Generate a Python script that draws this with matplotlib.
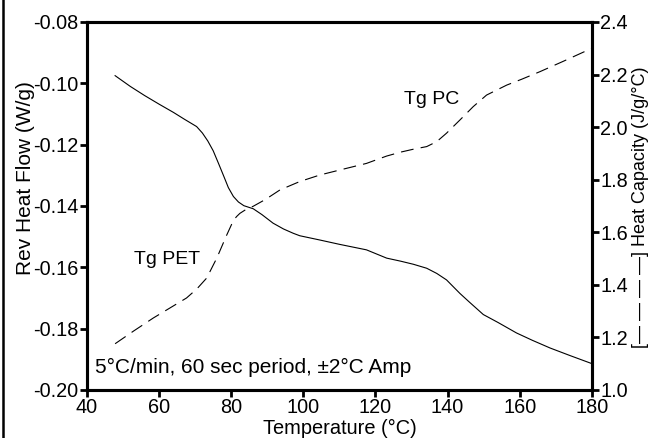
import matplotlib.pyplot as plt
from matplotlib.lines import Line2D

plt.rcParams['font.family'] = ['Liberation Sans', 'DejaVu Sans']

# rev heat flow (W/g), solid line
temp_hf = [47.8, 52, 56, 60, 64, 67, 70.4, 72, 73.5, 75.0, 76.5, 78, 79.2, 80.6,
           82, 83.5, 86.1, 88.5, 91.6, 94.5, 97.2, 99.0, 104.6, 110, 117.5,
           123.1, 127, 130.5, 134.2, 137, 139.7, 143.4, 146, 148.0, 149.9, 154,
           159.1, 163.5, 168.4, 174, 180]
heat_flow = [-0.0975, -0.1010, -0.1040, -0.1068, -0.1095, -0.1117, -0.1141, -0.1162,
             -0.1188, -0.1220, -0.1262, -0.1305, -0.1340, -0.1369, -0.1387,
             -0.1399, -0.1409, -0.1428, -0.1456, -0.1475, -0.1489, -0.1497,
             -0.1511, -0.1525, -0.1543, -0.1570, -0.1580, -0.1590, -0.1603,
             -0.1620, -0.1641, -0.1685, -0.1713, -0.1734, -0.1754, -0.1780,
             -0.1814, -0.1838, -0.1863, -0.1888, -0.1914]

# heat capacity (J/g/C), dashed line
temp_cp = [47.8, 53, 58.4, 63, 67.6, 70.5, 73.2, 76.0, 78.7, 80.6, 81.5, 82.4,
           84, 86.1, 89.5, 93.5, 99.0, 104.6, 111, 117.5, 123.1, 127, 130.5,
           134.2, 137, 139.7, 143.4, 147.1, 150.8, 156.4, 160.5, 165.6, 172, 180]
heat_cap = [1.176, 1.225, 1.274, 1.312, 1.350, 1.385, 1.426, 1.502, 1.588, 1.645,
            1.660, 1.672, 1.686, 1.699, 1.725, 1.761, 1.793, 1.818, 1.840, 1.862,
            1.890, 1.905, 1.916, 1.926, 1.945, 1.977, 2.027, 2.078, 2.122, 2.160,
            2.182, 2.211, 2.250, 2.300]

fig = plt.figure(figsize=(6.54, 4.38), dpi=100)
ax = fig.add_axes([0.133, 0.1096, 0.772, 0.8402])
ax2 = ax.twinx()

ax.plot(temp_hf, heat_flow, color='black', lw=0.8)
ax2.plot(temp_cp, heat_cap, color='black', lw=0.8, linestyle=(0, (11.5, 6.5)))

ax.set_xlim(40, 180)
ax.set_ylim(-0.20, -0.08)
ax2.set_ylim(1.0, 2.4)
ax.set_xticks([40, 60, 80, 100, 120, 140, 160, 180])
ax.set_yticks([-0.20, -0.18, -0.16, -0.14, -0.12, -0.10, -0.08])
ax.set_yticklabels(['-0.20', '-0.18', '-0.16', '-0.14', '-0.12', '-0.10', '-0.08'])
ax2.set_yticks([1.0, 1.2, 1.4, 1.6, 1.8, 2.0, 2.2, 2.4])
ax2.set_yticklabels(['1.0', '1.2', '1.4', '1.6', '1.8', '2.0', '2.2', '2.4'])

for a in (ax, ax2):
    for s in a.spines.values():
        s.set_linewidth(2.2)
    a.tick_params(direction='out', length=5, width=2, labelsize=14.3, pad=1)

ax.set_xlabel('Temperature (°C)', fontsize=14.4, labelpad=1.5)
ax.set_ylabel('Rev Heat Flow (W/g)', fontsize=15)
ax.yaxis.set_label_coords(-0.103, 0.577)
ax2.set_ylabel('[— — — —] Heat Capacity (J/g/°C)', fontsize=13, rotation=90)
ax2.yaxis.set_label_coords(1.079, 0.496)

ax.text(135.6, -0.1054, 'Tg PC', fontsize=14, ha='center', va='center')
ax.text(62.2, -0.1576, 'Tg PET', fontsize=14, ha='center', va='center')
ax.text(42.2, -0.1945, '5°C/min, 60 sec period, ±2°C Amp',
        fontsize=15, ha='left', va='baseline')

fig.add_artist(Line2D([0.005, 0.005], [0, 1], color='black', lw=1.8))

fig.savefig('out.png', dpi=100)
